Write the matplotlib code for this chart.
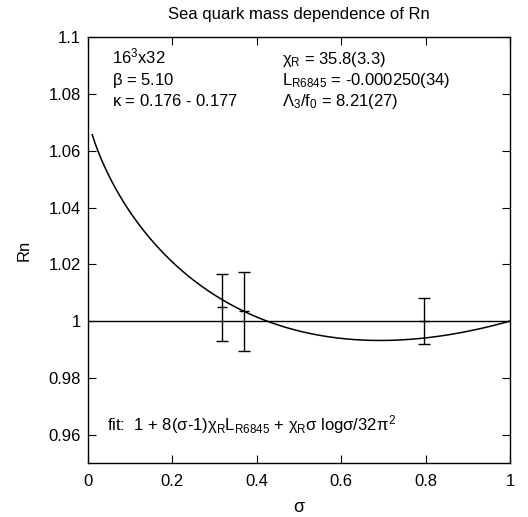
import numpy as np
import matplotlib
matplotlib.use('Agg')
import matplotlib.pyplot as plt

plt.rcParams['font.family'] = ['Liberation Sans', 'DejaVu Sans']
plt.rcParams['mathtext.fontset'] = 'custom'
plt.rcParams['mathtext.rm'] = 'Liberation Sans'
plt.rcParams['mathtext.it'] = 'Liberation Sans'
plt.rcParams['mathtext.bf'] = 'Liberation Sans:bold'

# Data
sigma = [0.318, 0.369, 0.797]
rn = [1.0049, 1.0035, 1.0000]
rn_err = [0.0118, 0.0139, 0.0081]

# Fit parameters (from the legend text)
chi_r = 35.8
l_r6845 = -0.000250
sigma_start = 0.01

x_ticks = [0, 0.2, 0.4, 0.6, 0.8, 1]
x_labels = ['0', '0.2', '0.4', '0.6', '0.8', '1']
y_ticks = [0.96, 0.98, 1.0, 1.02, 1.04, 1.06, 1.08, 1.1]
y_labels = ['0.96', '0.98', '1', '1.02', '1.04', '1.06', '1.08', '1.1']

fig = plt.figure(figsize=(5.28, 5.17), dpi=100)
ax = fig.add_axes([0.1667, 0.1044, 0.966 - 0.1667, 0.928 - 0.1044])

# fit curve
s = np.linspace(sigma_start, 1.0, 300)
fit = 1 + 8 * (s - 1) * chi_r * l_r6845 + chi_r * s * np.log(s) / (32 * np.pi**2)
ax.plot(s, fit, color='black', lw=1.1)

ax.axhline(1.0, color='black', lw=1.0)

ax.errorbar(sigma, rn, yerr=rn_err, fmt='none', ecolor='black',
            elinewidth=1.0, capsize=4, capthick=1.0)
ax.plot(sigma, rn, ls='none', marker='_', ms=7, mew=1.0, color='black')

ax.set_xlim(0, 1)
ax.set_ylim(0.95, 1.1)
ax.set_xticks(x_ticks)
ax.set_xticklabels(x_labels)
ax.set_yticks(y_ticks)
ax.set_yticklabels(y_labels)
ax.tick_params(direction='in', top=True, right=True, length=6, width=0.8,
               labelsize=12)
ax.tick_params(axis='x', pad=8)
ax.tick_params(axis='y', pad=5)
for sp in ax.spines.values():
    sp.set_linewidth(1.0)

ax.set_xlabel(r'$\sigma$', fontsize=13, labelpad=7)
ax.set_ylabel('Rn', fontsize=12, labelpad=12)
ax.set_title('Sea quark mass dependence of Rn', fontsize=12, pad=13)

fs = 12
rows = [0.938, 0.888, 0.838]
ax.text(0.058, rows[0], r'16$^3$x32', transform=ax.transAxes, fontsize=fs, va='baseline')
ax.text(0.058, rows[1], r'$\beta$ = 5.10', transform=ax.transAxes, fontsize=fs, va='baseline')
ax.text(0.058, rows[2], r'$\kappa$ = 0.176 - 0.177', transform=ax.transAxes, fontsize=fs, va='baseline')

ax.text(0.46, rows[0], r'$\chi_{\rm R}$ = 35.8(3.3)', transform=ax.transAxes, fontsize=fs, va='baseline')
ax.text(0.46, rows[1], r'L$_{\rm R6845}$ = -0.000250(34)', transform=ax.transAxes, fontsize=fs, va='baseline')
ax.text(0.46, rows[2], r'$\Lambda_3$/f$_0$ = 8.21(27)', transform=ax.transAxes, fontsize=fs, va='baseline')

ax.text(0.045, 0.077,
        r'fit:  1 + 8($\sigma$-1)$\chi_{\rm R}$L$_{\rm R6845}$ + $\chi_{\rm R}\sigma$ log$\sigma$/32$\pi^2$',
        transform=ax.transAxes, fontsize=fs, va='baseline')

fig.savefig('out.png', dpi=100)
